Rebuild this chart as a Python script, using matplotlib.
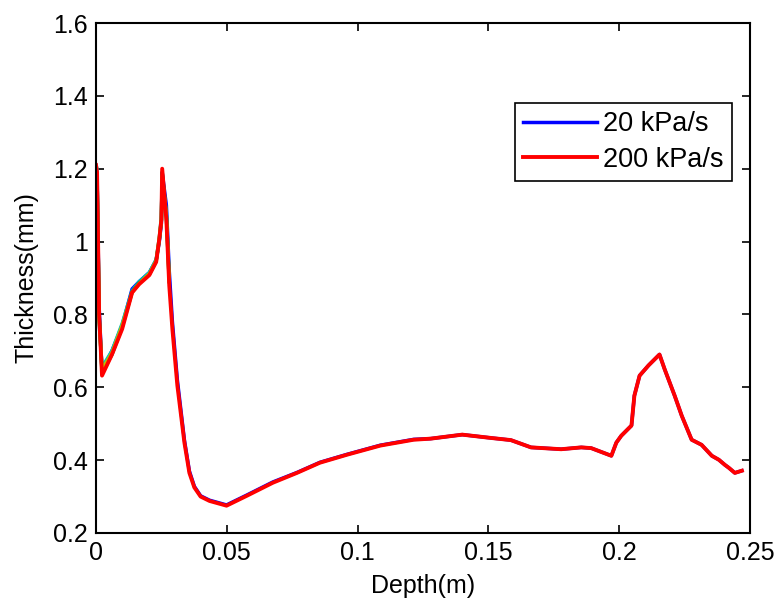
import numpy as np
import matplotlib
matplotlib.use('Agg')
import matplotlib.pyplot as plt

plt.rcParams['font.family'] = ['Liberation Sans', 'DejaVu Sans']

# depth (m) and thickness (mm)
depth = [0.0, 0.0004, 0.0012, 0.0023, 0.0061, 0.0100, 0.0138, 0.0165, 0.0204,
         0.0230, 0.0242, 0.0250, 0.0253, 0.0269, 0.0280, 0.0292, 0.0311,
         0.0338, 0.0357, 0.0376, 0.0400, 0.0434, 0.0499, 0.0576, 0.0676, 0.0768,
         0.0856, 0.0960, 0.1087, 0.1214, 0.1279, 0.1400, 0.1509, 0.1586,
         0.1663, 0.1778, 0.1855, 0.1893, 0.1970, 0.1989, 0.2008, 0.2047,
         0.2058, 0.2078, 0.2112, 0.2154, 0.2174, 0.2212, 0.2239, 0.2277,
         0.2315, 0.2354, 0.2381, 0.2404, 0.2419, 0.2442, 0.2469]

thick_200 = [1.21, 1.19, 0.80, 0.632, 0.69, 0.76, 0.86, 0.883, 0.908,
             0.944, 1.007, 1.06, 1.20, 1.06, 0.88, 0.76, 0.605,
             0.448, 0.365, 0.325, 0.30, 0.288, 0.275, 0.302, 0.338, 0.365,
             0.393, 0.415, 0.44, 0.456, 0.459, 0.47, 0.461, 0.455,
             0.435, 0.43, 0.435, 0.433, 0.412, 0.448, 0.467, 0.495,
             0.577, 0.632, 0.66, 0.69, 0.649, 0.577, 0.522, 0.456,
             0.442, 0.412, 0.401, 0.387, 0.379, 0.365, 0.371]

thick_20 = [1.20, 1.18, 0.82, 0.645, 0.70, 0.77, 0.87, 0.89, 0.915,
            0.95, 1.00, 1.05, 1.19, 1.10, 0.92, 0.78, 0.62,
            0.455, 0.37, 0.328, 0.302, 0.29, 0.277, 0.304, 0.34, 0.366,
            0.394, 0.416, 0.441, 0.457, 0.459, 0.47, 0.461, 0.455,
            0.435, 0.43, 0.435, 0.433, 0.412, 0.448, 0.467, 0.495,
            0.577, 0.632, 0.66, 0.69, 0.649, 0.577, 0.522, 0.456,
            0.442, 0.412, 0.401, 0.387, 0.379, 0.365, 0.371]

# other rates only visible at the start
depth_start = [0.0, 0.0004, 0.0012, 0.0023, 0.0061, 0.0100, 0.0138, 0.0165,
               0.0204, 0.0230, 0.0242, 0.0250, 0.0253, 0.0269, 0.0280]
thick_cyan = [1.21, 1.20, 0.78, 0.655, 0.70, 0.775, 0.865, 0.89, 0.915,
              0.95, 1.01, 1.07, 1.18, 1.08, 0.90]
thick_yellow = [1.20, 1.18, 0.79, 0.648, 0.695, 0.77, 0.86, 0.885, 0.912,
                0.948, 1.01, 1.06, 1.18, 1.07, 0.89]
thick_green = [1.20, 1.18, 0.80, 0.64, 0.69, 0.765, 0.862, 0.886, 0.91,
               0.946, 1.005, 1.06, 1.19, 1.07, 0.89]

fig = plt.figure(figsize=(7.79, 6.03), dpi=100)
ax = fig.add_axes([96/779, 70/603, 654/779, 510/603])

ax.plot(depth, thick_20, color='b', lw=2.5, label='20 kPa/s')
ax.plot(depth_start, thick_cyan, color='c', lw=2.5)
ax.plot(depth_start, thick_green, color='g', lw=2.5)
ax.plot(depth_start, thick_yellow, color='y', lw=2.5)
ax.plot(depth, thick_200, color='r', lw=2.8, label='200 kPa/s')

ax.set_xlim(0, 0.25)
ax.set_ylim(0.2, 1.6)
ax.set_xticks([0, 0.05, 0.1, 0.15, 0.2, 0.25])
ax.set_xticklabels(['0', '0.05', '0.1', '0.15', '0.2', '0.25'])
ax.set_yticks([0.2, 0.4, 0.6, 0.8, 1.0, 1.2, 1.4, 1.6])
ax.set_yticklabels(['0.2', '0.4', '0.6', '0.8', '1', '1.2', '1.4', '1.6'])
ax.tick_params(direction='in', length=6, width=1.2, labelsize=18,
               top=True, right=True, pad=6)
for s in ax.spines.values():
    s.set_linewidth(1.5)

ax.set_xlabel('Depth(m)', fontsize=18, labelpad=6)
ax.set_ylabel('Thickness(mm)', fontsize=18, labelpad=10)

leg = ax.legend(loc='upper right', bbox_to_anchor=(0.9725, 0.843),
                borderaxespad=0, fontsize=19.5, fancybox=False,
                handlelength=2.7, handletextpad=0.25, labelspacing=0.35,
                borderpad=0.3, framealpha=1)
leg.get_frame().set_edgecolor('black')
leg.get_frame().set_linewidth(1.2)

fig.savefig('out.png', dpi=100)
